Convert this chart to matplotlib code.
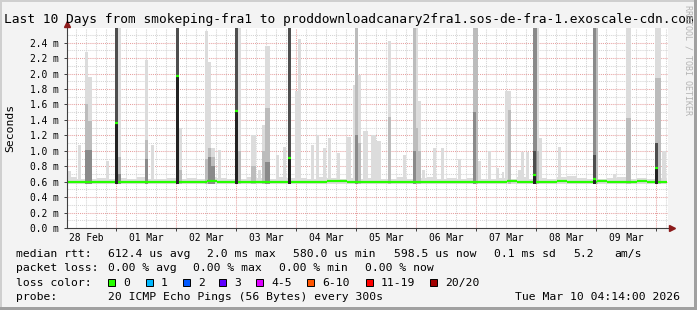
"""SmokePing style latency graph: last 10 days, median rtt with smoke."""

import matplotlib
matplotlib.use("Agg")
import matplotlib.pyplot as plt
import matplotlib.dates as mdates
import matplotlib.patches as mpatches
import pandas as pd

W, H = 697, 310
MONO = "DejaVu Sans Mono"

START = "2026-02-28 04:14"
END = "2026-03-10 04:14"

# baseline median rtt (ms), 4 hour steps from START
BASE_MEDIAN = [0.59, 0.595, 0.59, 0.60, 0.595,
               0.60, 0.595, 0.60, 0.60, 0.60, 0.595,
               0.60, 0.60, 0.60, 0.605, 0.60, 0.60,
               0.60, 0.595, 0.60, 0.60, 0.60, 0.595,
               0.60, 0.60, 0.60, 0.61, 0.605, 0.60,
               0.595, 0.60, 0.60, 0.60, 0.60, 0.595,
               0.60, 0.60, 0.595, 0.60, 0.60, 0.60,
               0.60, 0.60, 0.60, 0.605, 0.60, 0.60,
               0.60, 0.60, 0.605, 0.60, 0.60, 0.60,
               0.605, 0.60, 0.60, 0.60, 0.605, 0.60,
               0.60]
# top of the faint smoke band (ms), same steps
BASE_SMOKE = [0.66, 0.64, 0.63, 0.65, 0.64,
              0.65, 0.64, 0.66, 0.64, 0.63, 0.65,
              0.64, 0.65, 0.63, 0.66, 0.65, 0.64,
              0.64, 0.66, 0.65, 0.64, 0.66, 0.65,
              0.65, 0.64, 0.66, 0.65, 0.64, 0.65,
              0.64, 0.65, 0.64, 0.63, 0.66, 0.64,
              0.65, 0.66, 0.64, 0.65, 0.64, 0.65,
              0.64, 0.63, 0.65, 0.64, 0.66, 0.64,
              0.65, 0.64, 0.66, 0.67, 0.65, 0.64,
              0.64, 0.65, 0.66, 0.64, 0.65, 0.64,
              0.65]
FLOOR = 0.575  # lowest ping (ms)

# smoke bursts: start, length (h), max / mid / dark smoke level (ms)
SPIKE_TIME = [
    "2026-02-28 04:48", "2026-02-28 08:48", "2026-02-28 11:36", "2026-02-28 12:48",
    "2026-02-28 20:00", "2026-02-28 23:36", "2026-03-01 00:48", "2026-03-01 11:36",
    "2026-03-01 14:00", "2026-03-02 00:00", "2026-03-02 01:00", "2026-03-02 11:36",
    "2026-03-02 12:48", "2026-03-02 14:00", "2026-03-02 16:48", "2026-03-02 23:36",
    "2026-03-03 00:48", "2026-03-03 06:00", "2026-03-03 08:48", "2026-03-03 10:24",
    "2026-03-03 11:36", "2026-03-03 16:00", "2026-03-03 18:48", "2026-03-03 20:48",
    "2026-03-03 23:36", "2026-03-04 00:48", "2026-03-04 06:00", "2026-03-04 08:00",
    "2026-03-04 10:48", "2026-03-04 12:48", "2026-03-04 16:24", "2026-03-04 20:00",
    "2026-03-04 22:48", "2026-03-04 23:36", "2026-03-05 00:48", "2026-03-05 02:48",
    "2026-03-05 06:00", "2026-03-05 08:00", "2026-03-05 12:48", "2026-03-05 18:48",
    "2026-03-05 22:48", "2026-03-05 23:48", "2026-03-06 00:48", "2026-03-06 02:24",
    "2026-03-06 06:48", "2026-03-06 10:00", "2026-03-06 16:48", "2026-03-06 22:48",
    "2026-03-06 23:48", "2026-03-07 00:48", "2026-03-07 04:48", "2026-03-07 08:00",
    "2026-03-07 10:24", "2026-03-07 11:36", "2026-03-07 12:48", "2026-03-07 16:48",
    "2026-03-07 18:00", "2026-03-07 20:00", "2026-03-07 22:48", "2026-03-08 00:24",
    "2026-03-08 01:12", "2026-03-08 08:48", "2026-03-08 12:00", "2026-03-08 22:48",
    "2026-03-08 23:48", "2026-03-09 06:48", "2026-03-09 12:00", "2026-03-09 23:36",
    "2026-03-10 00:48", "2026-03-10 02:24",
]
SPIKE_HOURS = [1.2, 1.2, 1.2, 1.6, 1.0, 1.2, 1.2, 1.2, 1.0, 1.0,
               1.2, 1.2, 1.2, 1.6, 1.2, 1.2, 1.2, 2.0, 1.0, 1.2,
               2.0, 1.0, 1.2, 1.2, 1.0, 1.2, 1.0, 1.0, 1.0, 1.0,
               1.0, 2.0, 0.8, 1.2, 1.2, 2.0, 2.0, 2.0, 1.2, 1.0,
               1.0, 1.0, 1.2, 1.0, 1.2, 1.0, 1.2, 1.0, 1.0, 1.2,
               1.2, 1.0, 0.8, 1.2, 1.2, 1.0, 1.0, 1.2, 1.6, 0.8,
               1.2, 1.2, 2.0, 1.0, 1.0, 1.2, 2.0, 1.2, 1.2, 1.6]
SPIKE_MAX = [0.74, 1.08, 2.28, 1.95, 0.87, 2.6, 2.6, 2.18, 1.07, 2.6,
             1.30, 2.55, 2.15, 1.03, 1.01, 2.6, 2.6, 1.20, 0.75, 1.33,
             2.36, 0.94, 1.05, 2.6, 1.77, 2.45, 1.07, 1.20, 1.03, 1.16,
             0.97, 1.18, 1.85, 2.6, 1.98, 1.26, 1.20, 1.13, 2.42, 0.95,
             2.6, 2.6, 1.65, 0.75, 1.03, 1.03, 0.90, 2.6, 2.6, 0.87,
             1.00, 0.78, 0.72, 1.77, 1.77, 0.75, 0.99, 0.99, 2.6, 2.6,
             1.16, 1.05, 0.66, 2.6, 2.6, 0.70, 2.6, 2.6, 2.6, 1.00]
SPIKE_MID = [0, 0, 1.60, 1.38, 0, 2.6, 0.92, 1.14, 0, 2.6,
             0.75, 0.90, 1.03, 0.92, 0, 2.6, 1.00, 0.80, 0, 1.00,
             1.55, 0, 0, 2.6, 0, 0, 0, 0, 0, 0,
             0, 0, 0, 2.6, 1.10, 0, 0, 0, 1.44, 0,
             2.6, 1.30, 1.00, 0, 0, 0, 0, 2.6, 2.6, 0,
             0, 0, 0, 0, 1.53, 0, 0, 0, 2.6, 1.00,
             0, 0, 0, 2.6, 2.6, 0, 1.42, 1.94, 1.94, 0]
SPIKE_DARK = [0, 0, 1.01, 1.01, 0, 0, 0.70, 0.90, 0, 0,
              0, 0, 0.92, 0.80, 0, 0, 0, 0, 0, 0,
              0.85, 0, 0, 0, 0, 0, 0, 0, 0, 0,
              0, 0, 0, 1.20, 0, 0, 0, 0, 0, 0,
              1.00, 0, 0, 0, 0, 0, 0, 1.50, 0, 0,
              0, 0, 0, 0, 0, 0, 0, 0, 2.6, 0,
              0, 0, 0, 2.6, 0, 0, 0, 1.10, 0, 0]

# bins where the median itself went up: start, length (h), median, dark smoke top
JUMP_TIME = ["2026-02-28 23:36", "2026-03-02 00:00", "2026-03-02 23:36",
             "2026-03-03 20:48", "2026-03-07 22:48", "2026-03-08 22:48",
             "2026-03-09 23:36"]
JUMP_HOURS = [1.2, 1.0, 1.2, 1.2, 1.2, 1.0, 1.2]
JUMP_MEDIAN = [1.36, 1.97, 1.52, 0.91, 0.69, 0.64, 0.78]
JUMP_TOP = [2.6, 2.6, 2.6, 2.6, 1.00, 0.95, 1.10]

LOSS_LABELS = ["0", "1", "2", "3", "4-5", "6-10", "11-19", "20/20"]
LOSS_COLORS = ["#26ff00", "#00b8ff", "#0059ff", "#5e00ff",
               "#dd00ff", "#ff5500", "#ff0000", "#a10000"]

RTT_TEXT = [(108, "612.4 us avg"), (207, "2.0 ms max"), (293, "580.0 us min"),
            (394, "598.5 us now"), (494, "0.1 ms sd"), (573, "5.2"), (614, "am/s")]
LOSS_TEXT = [(108, "0.00 % avg"), (193, "0.00 % max"), (279, "0.00 % min"),
             (365, "0.00 % now")]

C_LIGHT, C_MID, C_DARK = "#dcdcdc", "#bcbcbc", "#8a8a8a"
C_JUMP, C_BLACK = "#4e4e4e", "#222222"
GREEN = "#26ff00"


def px(x):
    return x / W


def py(y):
    return 1 - y / H


def tnum(s):
    return mdates.date2num(pd.Timestamp(s))


fig = plt.figure(figsize=(W / 100, H / 100), dpi=100, facecolor="#f3f3f3")
ax = fig.add_axes([px(67), py(228), px(668) - px(67), py(28) - py(228)])
ax.set_facecolor("white")

t_start, t_end = tnum(START), tnum(END)
ax.set_xlim(t_start, t_end + 0.5 / 24)
ax.set_ylim(0, 2.59)

# grid
for t in pd.date_range("2026-02-28 08:00", "2026-03-10 04:00", freq="4h"):
    red = t.hour == 0
    ax.axvline(mdates.date2num(t), color="#e6a0a0" if red else "#d4d4d4",
               lw=0.75, ls=(0, (1, 1)), zorder=0.5)
for k in range(1, 26):
    ax.axhline(k * 0.1, color="#e6a0a0" if k % 2 == 0 else "#d4d4d4",
               lw=0.75, ls=(0, (1, 1)), zorder=0.5)

# faint baseline smoke
step = 4 / 24
for i, top in enumerate(BASE_SMOKE):
    ax.bar(t_start + i * step, top - FLOOR, width=step, bottom=FLOOR,
           align="edge", color=C_LIGHT, lw=0, zorder=1)

# smoke bursts
for t, hrs, hi, mid, dark in zip(SPIKE_TIME, SPIKE_HOURS, SPIKE_MAX, SPIKE_MID, SPIKE_DARK):
    x0, w = tnum(t), hrs / 24
    for level, col in ((hi, C_LIGHT), (mid, C_MID), (dark, C_DARK)):
        if level > 0:
            ax.bar(x0, level - FLOOR, width=w, bottom=FLOOR, align="edge",
                   color=col, lw=0, zorder=2)

# median line
for i, m in enumerate(BASE_MEDIAN):
    ax.hlines(m, t_start + i * step, t_start + (i + 1) * step,
              color=GREEN, lw=1.6, zorder=3)

for t, hrs, m, top in zip(JUMP_TIME, JUMP_HOURS, JUMP_MEDIAN, JUMP_TOP):
    x0, w = tnum(t), hrs / 24
    ax.bar(x0, top - FLOOR, width=w, bottom=FLOOR, align="edge",
           color=C_JUMP, lw=0, zorder=4)
    ax.bar(x0, m - FLOOR + 0.01, width=w, bottom=FLOOR - 0.01, align="edge",
           color=C_BLACK, lw=0, zorder=4)
    ax.hlines(m, x0, x0 + w, color=GREEN, lw=1.6, zorder=5)

# axes look
for side in ("top", "right"):
    ax.spines[side].set_visible(False)
for side in ("left", "bottom"):
    ax.spines[side].set_color("#404040")
    ax.spines[side].set_linewidth(0.8)
    ax.spines[side].set_zorder(6)
ax.plot([0], [1.02], marker="^", ms=4, color="#8b1a1a", transform=ax.transAxes,
        clip_on=False, zorder=7)
ax.plot([1.007], [0], marker=">", ms=4, color="#8b1a1a", transform=ax.transAxes,
        clip_on=False, zorder=7)

ax.set_yticks([k * 0.2 for k in range(13)])
ax.set_yticklabels([f"{k * 0.2:.1f} m" for k in range(13)], family=MONO, fontsize=6.9)
ax.tick_params(axis="y", length=2.2, width=0.7, color="#404040", pad=3.4)

ax.xaxis.set_major_locator(mdates.DayLocator())
ax.xaxis.set_major_formatter(plt.NullFormatter())
ax.xaxis.set_minor_locator(mdates.HourLocator(byhour=12))
ax.xaxis.set_minor_formatter(mdates.DateFormatter("%d %b"))
ax.tick_params(axis="x", which="major", length=2.2, width=0.7, color="#404040")
ax.tick_params(axis="x", which="minor", length=0, pad=3.5, labelsize=6.9)
for lab in ax.get_xticklabels(minor=True):
    lab.set_family(MONO)

fig.text(px(10), py(128), "Seconds", family=MONO, fontsize=8.2,
         rotation=90, ha="center", va="center")

# title and watermark
fig.text(0.5, py(19.3), "Last 10 Days from smokeping-fra1 to "
         "proddownloadcanary2fra1.sos-de-fra-1.exoscale-cdn.com",
         family=MONO, fontsize=9.3, ha="center", va="center")
fig.text(px(688), py(60), "RRDTOOL / TOBI OETIKER", family=MONO, fontsize=6,
         color="#b4b4b4", rotation=270, ha="center", va="center")

# legend block
leg = dict(family=MONO, fontsize=8.2, va="center", ha="left")
fig.text(px(16), py(254.3), "median rtt:", **leg)
for x, s in RTT_TEXT:
    fig.text(px(x), py(254.3), s, **leg)
fig.text(px(16), py(268.3), "packet loss:", **leg)
for x, s in LOSS_TEXT:
    fig.text(px(x), py(268.3), s, **leg)
fig.text(px(16), py(282.7), "loss color:", **leg)
box_x = [108, 146, 183, 219, 256, 307, 366, 430]
for bx, lab, col in zip(box_x, LOSS_LABELS, LOSS_COLORS):
    fig.patches.append(mpatches.Rectangle((px(bx), py(286.2)), 7 / W, 7 / H,
                                          transform=fig.transFigure, facecolor=col,
                                          edgecolor="black", lw=0.7))
    fig.text(px(bx + 15), py(282.7), lab, **leg)
fig.text(px(16), py(296.7), "probe:", **leg)
fig.text(px(108), py(296.7), "20 ICMP Echo Pings (56 Bytes) every 300s", **leg)
fig.text(px(680.3), py(296.7), "Tue Mar 10 04:14:00 2026",
         family=MONO, fontsize=8.2, va="center", ha="right")

# canvas frame
for (x0, y0, w, h, c) in [(0, 0, W, 2, "#cfcfcf"), (0, 0, 2, H, "#cfcfcf"),
                          (0, H - 3, W, 3, "#a0a0a0"), (W - 3, 0, 3, H, "#a0a0a0")]:
    fig.patches.append(mpatches.Rectangle((px(x0), py(y0 + h)), w / W, h / H,
                                          transform=fig.transFigure, facecolor=c,
                                          lw=0))

fig.savefig("out.png", dpi=100, facecolor=fig.get_facecolor())
